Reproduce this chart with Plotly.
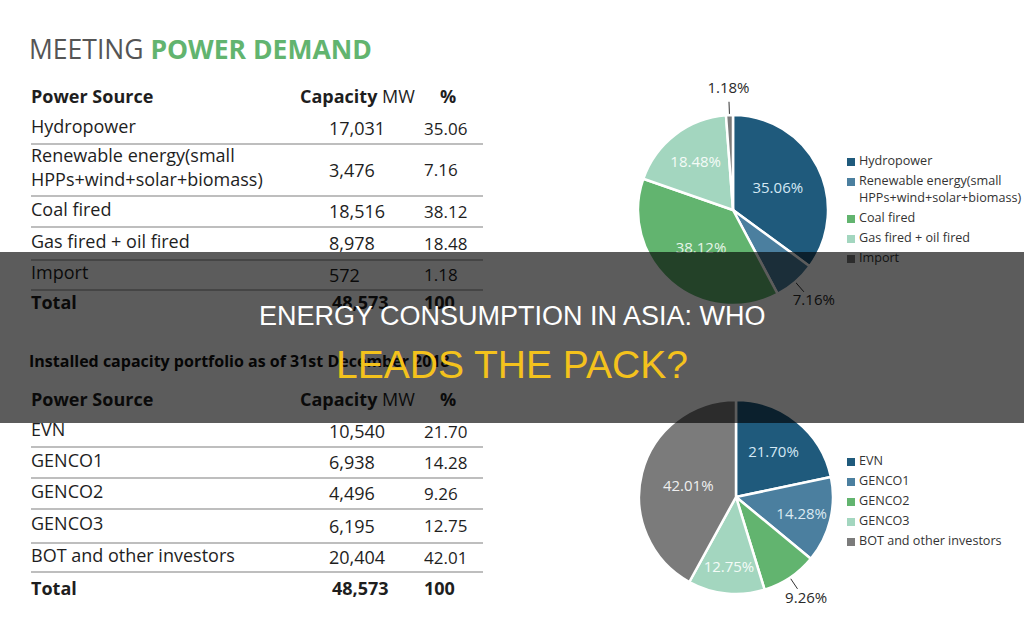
import math
import plotly.graph_objects as go

# ---------------- data ----------------
source_names = ["Hydropower", "Renewable energy(small<br>HPPs+wind+solar+biomass)",
                "Coal fired", "Gas fired + oil fired", "Import"]
source_capacity_mw = [17031, 3476, 18516, 8978, 572]
source_percent = [35.06, 7.16, 38.12, 18.48, 1.18]

owner_names = ["EVN", "GENCO1", "GENCO2", "GENCO3", "BOT and other investors"]
owner_capacity_mw = [10540, 6938, 4496, 6195, 20404]
owner_percent = [21.70, 14.28, 9.26, 12.75, 42.01]

header_labels = ["<b>Power Source</b>", "<b>Capacity</b> MW", "<b>%</b>"]
top_heading_plain = "MEETING "
top_heading_accent = "POWER DEMAND"
bottom_heading = "Installed capacity portfolio as of 31st December 2018"
banner_line1 = "ENERGY CONSUMPTION IN ASIA: WHO"
banner_line2 = "LEADS THE PACK?"

# ---------------- style ----------------
W, H = 1024, 626
FONT = "Open Sans, DejaVu Sans, sans-serif"
TXT = "#1e1e1e"
GREEN_HEAD = "#62b46f"
SLICE_COLORS = ["#1f5a7c", "#4b7f9f", "#62b46f", "#a3d6bf", "#7b7b7b"]
INSIDE_COLORS = ["#d4e8f4", "#dbeaf2", "#e6f4e8", "#f4fbf7", "#efefef"]
RULE = "#a8a8a8"

NAME_X, CAP_X, PCT_X, CAPHEAD_X, PCTHEAD_X, RULE_X1 = 31, 329, 424, 300, 448, 483

fig = go.Figure()


def add_table(names, caps, pcts, header_y, row_top, row_heights, total_y):
    fig.add_trace(go.Scatter(
        x=[NAME_X, CAPHEAD_X, PCTHEAD_X], y=[header_y] * 3, mode="text",
        text=header_labels, textposition=["middle right", "middle right", "middle center"],
        textfont=dict(family=FONT, size=18, color=TXT), hoverinfo="skip", showlegend=False))
    centers, rules = [], []
    y = row_top
    for h in row_heights:
        centers.append(y + h / 2)
        y += h
        rules.append(y)
    fig.add_trace(go.Scatter(
        x=[NAME_X] * len(names), y=[c - 0.5 for c in centers], mode="text", text=names,
        textposition="middle right", textfont=dict(family=FONT, size=18, color=TXT),
        hoverinfo="skip", showlegend=False))
    fig.add_trace(go.Scatter(
        x=[CAP_X] * len(caps), y=[c + 2 for c in centers], mode="text",
        text=[f"{v:,}" for v in caps], textposition="middle right",
        textfont=dict(family=FONT, size=18, color=TXT), hoverinfo="skip", showlegend=False))
    fig.add_trace(go.Scatter(
        x=[PCT_X] * len(pcts), y=[c + 2 for c in centers], mode="text",
        text=[f"{p:.2f}" for p in pcts], textposition="middle right",
        textfont=dict(family=FONT, size=17, color=TXT), hoverinfo="skip", showlegend=False))
    for ry in rules:
        fig.add_shape(type="line", xref="x", yref="y", x0=NAME_X, x1=RULE_X1, y0=ry, y1=ry,
                      line=dict(color=RULE, width=1.6), layer="below")
    fig.add_trace(go.Scatter(
        x=[NAME_X, CAP_X + 3, PCT_X], y=[total_y] * 3, mode="text",
        text=["<b>Total</b>", f"<b>{sum(caps):,}</b>", f"<b>{round(sum(pcts))}</b>"],
        textposition="middle right", textfont=dict(family=FONT, size=18, color=TXT),
        hoverinfo="skip", showlegend=False))


def add_pie(names, caps, pcts, cx, cy, r, leg_x, leg_y0, leg_step, line_h):
    fig.add_trace(go.Pie(
        labels=names, values=caps, sort=False, direction="clockwise", rotation=0,
        domain=dict(x=[(cx - r) / W, (cx + r) / W], y=[1 - (cy + r) / H, 1 - (cy - r) / H]),
        marker=dict(colors=SLICE_COLORS, line=dict(color="white", width=2.5)),
        text=[f"{p:.2f}%" for p in pcts], textinfo="text",
        textposition=["inside" if p >= 10 else "none" for p in pcts],
        insidetextorientation="horizontal",
        insidetextfont=dict(family=FONT, size=15, color=INSIDE_COLORS),
        showlegend=False, hoverinfo="skip"))
    total = sum(caps)
    cum = 0
    lx, ly, tx, ty, tt = [], [], [], [], []
    for c, p in zip(caps, pcts):
        mid = (cum + c / 2) / total * 2 * math.pi
        cum += c
        if p >= 10:
            continue
        sx, sy = math.sin(mid), -math.cos(mid)
        lx += [cx + 0.97 * r * sx, cx + 1.14 * r * sx, None]
        ly += [cy + 0.97 * r * sy, cy + 1.14 * r * sy, None]
        tx.append(cx + 1.3 * r * sx)
        ty.append(cy + 1.27 * r * sy)
        tt.append(f"{p:.2f}%")
    fig.add_trace(go.Scatter(x=lx, y=ly, mode="lines", line=dict(color="#333333", width=1),
                             hoverinfo="skip", showlegend=False))
    fig.add_trace(go.Scatter(x=tx, y=ty, mode="text", text=tt, textposition="middle center",
                             textfont=dict(family=FONT, size=15, color="#2a2a2a"),
                             hoverinfo="skip", showlegend=False))
    # custom legend
    my, ty2 = [], []
    y = leg_y0
    for n in names:
        nl = n.count("<br>") + 1
        my.append(y)
        ty2.append(y + (nl - 1) * line_h / 2)
        y += leg_step + (nl - 1) * line_h
    fig.add_trace(go.Scatter(x=[leg_x] * len(names), y=my, mode="markers",
                             marker=dict(symbol="square", size=8, color=SLICE_COLORS),
                             hoverinfo="skip", showlegend=False))
    fig.add_trace(go.Scatter(x=[leg_x + 8] * len(names), y=ty2, mode="text", text=names,
                             textposition="middle right",
                             textfont=dict(family=FONT, size=12.6, color="#333333"),
                             hoverinfo="skip", showlegend=False))


# headings
fig.add_trace(go.Scatter(
    x=[29], y=[52], mode="text",
    text=[f"{top_heading_plain}<b><span style='color:{GREEN_HEAD}'>{top_heading_accent}</span></b>"],
    textposition="middle right", textfont=dict(family=FONT, size=26.5, color="#555555"),
    hoverinfo="skip", showlegend=False))
fig.add_trace(go.Scatter(
    x=[29], y=[363], mode="text", text=[f"<b>{bottom_heading}</b>"],
    textposition="middle right", textfont=dict(family=FONT, size=16, color="#111111"),
    hoverinfo="skip", showlegend=False))

add_table(source_names, source_capacity_mw, source_percent,
          header_y=98, row_top=113, row_heights=[31, 52, 31, 33, 30], total_y=304)
add_table(owner_names, owner_capacity_mw, owner_percent,
          header_y=401, row_top=416, row_heights=[31, 31, 31, 34, 29], total_y=590)

add_pie(source_names, source_capacity_mw, source_percent, 733, 210, 95,
        leg_x=851, leg_y0=162, leg_step=20, line_h=17)
add_pie(owner_names, owner_capacity_mw, owner_percent, 736, 497, 97,
        leg_x=851, leg_y0=462, leg_step=20, line_h=17)

# dark banner
fig.add_shape(type="rect", xref="x", yref="y", x0=0, x1=W, y0=252, y1=423,
              fillcolor="rgba(0,0,0,0.64)", line=dict(width=0), layer="above")
fig.add_annotation(x=0.5, y=1 - 315.5 / H, xref="paper", yref="paper", text=banner_line1,
                   showarrow=False, xanchor="center", yanchor="middle",
                   font=dict(family="Liberation Sans, Arial, sans-serif", size=27, color="#ffffff"))
fig.add_annotation(x=0.5, y=1 - 364 / H, xref="paper", yref="paper", text=banner_line2,
                   showarrow=False, xanchor="center", yanchor="middle",
                   font=dict(family="Liberation Sans, Arial, sans-serif", size=39, color="#f4c21c"))

fig.update_layout(
    width=W, height=H, margin=dict(l=0, r=0, t=0, b=0),
    paper_bgcolor="white", plot_bgcolor="white", hovermode=False,
    xaxis=dict(range=[0, W], visible=False, fixedrange=True, domain=[0, 1]),
    yaxis=dict(range=[H, 0], visible=False, fixedrange=True, domain=[0, 1]),
)
fig.write_html("out.html")
